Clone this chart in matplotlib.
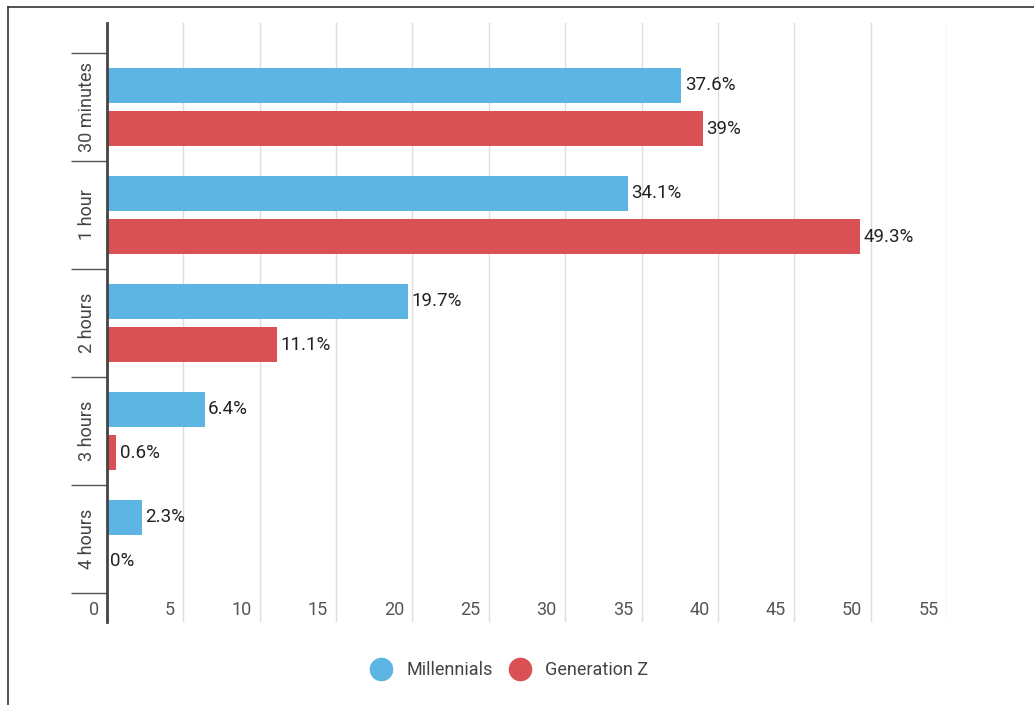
import matplotlib
matplotlib.use('Agg')
import matplotlib.pyplot as plt
from matplotlib.lines import Line2D
import matplotlib.transforms as mtransforms
import numpy as np

plt.rcParams['font.family'] = ['Roboto', 'DejaVu Sans']

# data
categorias = ['30 minutes', '1 hour', '2 hours', '3 hours', '4 hours']
millennials = [37.6, 34.1, 19.7, 6.4, 2.3]
gen_z = [39, 49.3, 11.1, 0.6, 0]
rotulos_mil = ['37.6%', '34.1%', '19.7%', '6.4%', '2.3%']
rotulos_gz = ['39%', '49.3%', '11.1%', '0.6%', '0%']
x_ticks = [0, 5, 10, 15, 20, 25, 30, 35, 40, 45, 50, 55]

azul = '#5DB5E4'
vermelho = '#D95154'

W, H = 1034, 705
fig = plt.figure(figsize=(W / 100, H / 100), dpi=100)
ax = fig.add_axes([107 / W, 1 - 622 / H, 840 / W, 599 / H])

y = np.arange(len(categorias))
altura = 0.32
ax.barh(y - 0.2, millennials, height=altura, color=azul, label='Millennials', zorder=3)
ax.barh(y + 0.2, gen_z, height=altura, color=vermelho, label='Generation Z', zorder=3)

# value labels
for i in range(len(categorias)):
    ax.annotate(rotulos_mil[i], (millennials[i], y[i] - 0.2), xytext=(2.5, 0),
                textcoords='offset points', va='center', ha='left',
                fontsize=13.5, color='#222222', zorder=4)
    ax.annotate(rotulos_gz[i], (gen_z[i], y[i] + 0.2), xytext=(2.5, 0),
                textcoords='offset points', va='center', ha='left',
                fontsize=13.5, color='#222222', zorder=4)

ax.set_xlim(0, 55)
ax.set_ylim(4.5 + 0.269, -0.5 - 0.278)

# vertical gridlines
for xv in x_ticks[1:]:
    ax.axvline(xv, color='#DDDDDD', lw=1, zorder=1)

for s in ['top', 'right', 'bottom']:
    ax.spines[s].set_visible(False)
ax.spines['left'].set_color('#444444')
ax.spines['left'].set_linewidth(2)
ax.spines['left'].set_zorder(5)

ax.set_xticks([])
ax.set_yticks(np.arange(-0.5, len(categorias), 1.0))
ax.set_yticklabels([])
ax.tick_params(axis='y', length=26, width=1, color='#555555', direction='out')

# x tick labels inside plot, left of gridline
trans_x = mtransforms.blended_transform_factory(ax.transData, ax.transAxes)
for xv in x_ticks:
    ax.annotate(str(xv), (xv, (622 - 610) / 599), xycoords=trans_x,
                xytext=(-6, 0), textcoords='offset points',
                ha='right', va='center', fontsize=13, color='#555555')

# category labels
trans_y = mtransforms.blended_transform_factory(ax.transAxes, ax.transData)
for i, cat in enumerate(categorias):
    ax.text((87 - 107) / 840, i, cat, transform=trans_y, rotation=90,
            ha='center', va='center', fontsize=13, color='#444444')

# legend
handles = [Line2D([], [], marker='o', ls='', markersize=16, color=azul),
           Line2D([], [], marker='o', ls='', markersize=16, color=vermelho)]
fig.legend(handles, ['Millennials', 'Generation Z'], loc='center',
           bbox_to_anchor=(506 / W, 1 - 670 / H), ncol=2, frameon=False,
           fontsize=13, labelcolor='#444444', handletextpad=0.4,
           columnspacing=0.5)

# frame lines (left and top)
fig.add_artist(Line2D([8 / W, 8 / W], [0, 1 - 7 / H], color='#333333', lw=1.2))
fig.add_artist(Line2D([8 / W, 1], [1 - 7 / H, 1 - 7 / H], color='#333333', lw=1.2))

fig.savefig('out.png', dpi=100)
